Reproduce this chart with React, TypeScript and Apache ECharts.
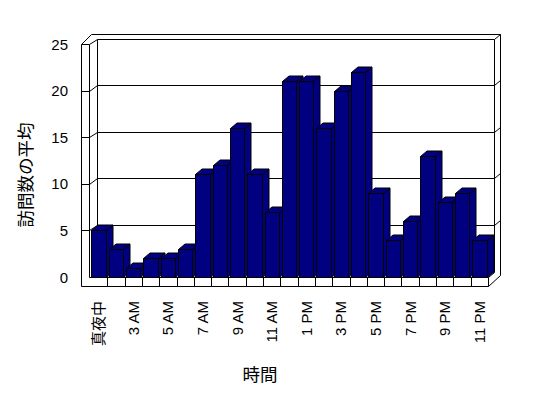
import React, { useEffect, useRef } from "react";
import * as echarts from "echarts";

const categories = [
  "真夜中", "2 AM", "3 AM", "4 AM", "5 AM", "6 AM", "7 AM", "8 AM", "9 AM", "10 AM", "11 AM",
  "正午", "1 PM", "2 PM", "3 PM", "4 PM", "5 PM", "6 PM", "7 PM", "8 PM", "9 PM", "10 PM", "11 PM",
];
const visits = [5, 3, 1, 2, 2, 3, 11, 12, 16, 11, 7, 21, 21, 16, 20, 22, 9, 4, 6, 13, 8, 9, 4];
const gridValues = [5, 10, 15, 20];
const yMin = 0;
const yMax = 25;
const yStep = 5;
const yTitle = "訪問数の平均";
const xTitle = "時間";

const DX = 6.5;
const DY = 5.5;
const P = (v: number) => Math.round(v) + 0.5;

export default function App() {
  const ref = useRef<HTMLDivElement>(null);
  useEffect(() => {
    document.body.style.margin = "0";
    const chart = echarts.init(ref.current!, null, { renderer: "svg" });
    const font = '"Liberation Sans", Arial, "Noto Sans CJK JP", sans-serif';
    const lineStyle = { stroke: "#000", lineWidth: 1, fill: "none" };
    const ln = (x1: number, y1: number, x2: number, y2: number) => ({
      type: "line",
      shape: { x1: P(x1), y1: P(y1), x2: P(x2), y2: P(y2) },
      style: lineStyle,
    });

    const frameRender = (params: any, api: any) => {
      const cs = params.coordSys;
      const L = cs.x, R = cs.x + cs.width, T = cs.y, B = cs.y + cs.height;
      const FL = L - 9;
      const IL = L - 1.5;
      const FB = B + 8.5;
      const BL = L + DX;
      const BR = R + 5.5;
      const OR = R + 12;
      const OT = T - 10.5;
      const slot = cs.width / categories.length;
      const c: any[] = [];
      // back wall & walls white fill
      c.push({
        type: "polygon",
        shape: { points: [[FL, FB], [FL, T], [FL + 10, OT], [OR, OT], [OR, B - 2], [R, FB]] },
        style: { fill: "#fff", stroke: "none" },
      });
      // left wall
      c.push(ln(FL, T, FL, FB));
      c.push(ln(FL, T, IL, T));
      c.push(ln(IL, T, IL, B));
      c.push(ln(FL, T, FL + 10, OT));
      c.push(ln(IL, T, BL, T - DY));
      c.push(ln(BL, T - DY, BL, B - DY));
      // top edges
      c.push(ln(FL + 10, OT, OR, OT));
      c.push(ln(BL, T - DY, BR, T - DY));
      c.push(ln(BR, T - DY, OR, OT));
      // right side
      c.push(ln(BR, T - DY, BR, B - DY));
      c.push(ln(OR, OT, OR, B - 2));
      c.push(ln(R, FB, OR, B - 2));
      c.push(ln(R, B, BR, B - DY));
      // floor front face
      c.push(ln(IL, B, R, B));
      c.push(ln(FL, FB, R, FB));
      c.push(ln(R, B, R, FB));
      for (let k = 1; k < categories.length; k++) {
        const x = L + k * slot;
        c.push(ln(x, B, x, FB));
      }
      // gridlines on back wall
      gridValues.forEach((v) => {
        const y = api.coord([0, v])[1];
        c.push(ln(BL, y - DY, BR, y - DY));
        c.push(ln(FL, y, IL, y));
        c.push(ln(IL, y, BL, y - DY));
        c.push(ln(BR, y - DY, OR, y - DY - 5));
      });
      return { type: "group", children: c };
    };

    const barRender = (params: any, api: any) => {
      const i = api.value(0);
      const v = api.value(1);
      const top = api.coord([i, v]);
      const base = api.coord([i, 0]);
      const w = api.size([1, 0])[0] * 0.83;
      const x0 = P(top[0] - w / 2);
      const x1 = P(top[0] + w / 2);
      const yt = P(top[1]);
      const y0 = P(base[1]);
      const style = { fill: "#000080", stroke: "#000", lineWidth: 1 };
      return {
        type: "group",
        children: [
          {
            type: "polygon",
            shape: { points: [[x1, yt], [x1 + DX, yt - DY], [x1 + DX, y0 - DY], [x1, y0]] },
            style,
          },
          {
            type: "polygon",
            shape: { points: [[x0, yt], [x0 + DX, yt - DY], [x1 + DX, yt - DY], [x1, yt]] },
            style,
          },
          { type: "rect", shape: { x: x0, y: yt, width: x1 - x0, height: y0 - yt }, style },
        ],
      };
    };

    chart.setOption({
      animation: false,
      backgroundColor: "#fff",
      grid: { left: 90, top: 44, width: 398, height: 233 },
      xAxis: {
        type: "category",
        data: categories,
        axisLine: { show: false },
        axisTick: { show: false },
        splitLine: { show: false },
        axisLabel: { rotate: 90, interval: 1, margin: 24, fontSize: 15, color: "#000", fontFamily: font },
      },
      yAxis: {
        type: "value",
        min: yMin,
        max: yMax,
        interval: yStep,
        axisLine: { show: false },
        axisTick: { show: false },
        splitLine: { show: false },
        axisLabel: { margin: 22, fontSize: 15, color: "#000", fontFamily: font },
      },
      graphic: [
        {
          type: "text",
          x: 26,
          y: 175,
          rotation: Math.PI / 2,
          style: {
            text: yTitle,
            fill: "#000",
            fontSize: 17.5,
            fontFamily: font,
            align: "center",
            verticalAlign: "middle",
          },
        },
        {
          type: "text",
          x: 260,
          y: 375,
          style: {
            text: xTitle,
            fill: "#000",
            fontSize: 17.5,
            fontFamily: font,
            align: "center",
            verticalAlign: "middle",
          },
        },
      ],
      series: [
        {
          type: "custom",
          renderItem: frameRender,
          data: [[0, 0]],
          silent: true,
          z: 1,
        },
        {
          type: "custom",
          renderItem: barRender,
          data: visits.map((v, i) => [i, v]),
          z: 2,
        },
      ],
    });
    return () => chart.dispose();
  }, []);
  return <div ref={ref} style={{ width: 548, height: 398 }} />;
}
